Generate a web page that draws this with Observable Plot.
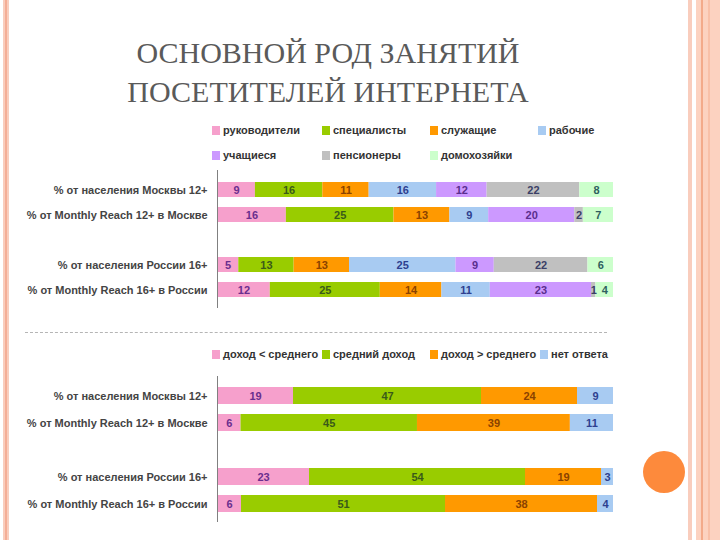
<!DOCTYPE html>
<html>
<head>
<meta charset="utf-8">
<script src="https://cdn.jsdelivr.net/npm/d3@7"></script>
<script src="https://cdn.jsdelivr.net/npm/@observablehq/plot@0.6"></script>
<style>
  html, body { margin: 0; padding: 0; background: #fff; }
  #slide { position: relative; width: 720px; height: 540px; overflow: hidden; background: #fff; font-family: "Liberation Sans", Arial, sans-serif; }
  .abs { position: absolute; }
  .title { left: 0; width: 656px; top: 33px; text-align: center; font-family: "Liberation Serif", "DejaVu Serif", serif; font-size: 30px; line-height: 39px; color: #5a5a5a; }
  .leg { position: absolute; font-size: 11px; font-weight: bold; color: #333; white-space: nowrap; line-height: 12px; }
  .leg i { display: inline-block; width: 8px; height: 9px; margin-right: 3px; vertical-align: -1px; }
</style>
</head>
<body>
<div id="slide"></div>
<script>
// ---------- data ----------
const rows = [
  "% от населения Москвы 12+",
  "% от Monthly Reach 12+ в Москве",
  "% от населения России 16+",
  "% от Monthly Reach 16+ в России"
];
const occupations = ["руководители", "специалисты", "служащие", "рабочие", "учащиеся", "пенсионеры", "домохозяйки"];
const occMoscowPop   = [9, 16, 11, 16, 12, 22, 8];
const occMoscowReach = [16, 25, 13, 9, 20, 2, 7];
const occRussiaPop   = [5, 13, 13, 25, 9, 22, 6];
const occRussiaReach = [12, 25, 14, 11, 23, 1, 4];

const incomes = ["доход < среднего", "средний доход", "доход > среднего", "нет ответа"];
const incMoscowPop   = [19, 47, 24, 9];
const incMoscowReach = [6, 45, 39, 11];
const incRussiaPop   = [23, 54, 19, 3];
const incRussiaReach = [6, 51, 38, 4];

const occColors = ["#F6A0CC", "#99CC00", "#FF9900", "#A8CBF2", "#CC99FF", "#C0C0C0", "#CCFFCC"];
const occLabelColors = ["#6A2E8E", "#3A5A1A", "#8A4200", "#2E3F8F", "#5A2E8E", "#3A3F66", "#2F5F5F"];
const incColors = ["#F6A0CC", "#99CC00", "#FF9900", "#A8CBF2"];
const incLabelColors = ["#6A2E8E", "#3A5A1A", "#8A4200", "#2E3F8F"];

// ---------- helpers ----------
const GAP = "__gap__";
function table(seriesNames, colors, labelColors, valueRows) {
  const out = [];
  valueRows.forEach((vals, r) => {
    vals.forEach((v, i) => out.push({row: rows[r], series: seriesNames[i], value: v, color: colors[i], label: labelColors[i]}));
  });
  return out;
}

const slide = document.getElementById("slide");

function addDiv(cls, style, html) {
  const d = document.createElement("div");
  d.className = cls;
  Object.assign(d.style, style);
  d.innerHTML = html;
  slide.appendChild(d);
  return d;
}

// decorations
addDiv("abs", {left: "3px", top: "0", width: "6px", height: "540px", background: "#F9CDBD"}, "");
addDiv("abs", {left: "5px", top: "0", width: "2px", height: "540px", background: "#F4AE96"}, "");
addDiv("abs", {left: "688px", top: "0", width: "4px", height: "540px", background: "#F9CDBD"}, "");
addDiv("abs", {left: "696px", top: "0", width: "24px", height: "540px", background: "#FCD2C0"}, "");
addDiv("abs", {left: "701px", top: "0", width: "2px", height: "540px", background: "#F3AA8A"}, "");
addDiv("abs", {left: "708px", top: "0", width: "2px", height: "540px", background: "#F8C0A8"}, "");
addDiv("abs", {left: "643px", top: "451px", width: "42px", height: "42px", borderRadius: "50%", background: "#FD8A3C"}, "");

// title
addDiv("abs title", {}, "ОСНОВНОЙ РОД ЗАНЯТИЙ<br>ПОСЕТИТЕЛЕЙ ИНТЕРНЕТА");

// dashed separator
addDiv("abs", {left: "25px", top: "332px", width: "582px", height: "0", borderTop: "1.5px dashed #B5B5B5"}, "");

// legends
function legend(names, colors, lefts, tops) {
  names.forEach((n, i) => {
    addDiv("leg", {left: lefts[i] + "px", top: tops[i] + "px"}, `<i style="background:${colors[i]}"></i>${n.replace("<", "&lt;").replace(">", "&gt;")}`);
  });
}
legend(occupations, occColors, [212, 322, 430, 538, 212, 322, 430], [124, 124, 124, 124, 149, 149, 149]);
legend(incomes, incColors, [212, 322, 430, 540], [348, 348, 348, 348]);

// chart builder
function chart(data, top, height, padding) {
  const p = Plot.plot({
    width: 720,
    height,
    marginLeft: 217,
    marginRight: 107,
    marginTop: 10,
    marginBottom: 10,
    style: {fontFamily: "'Liberation Sans', Arial, sans-serif", fontSize: "11px", background: "transparent", overflow: "visible"},
    x: {domain: [0, 1], axis: null},
    y: {domain: [rows[0], rows[1], GAP, rows[2], rows[3]], padding, axis: null},
    color: {type: "identity"},
    marks: [
      Plot.barX(data, Plot.stackX({x: "value", y: "row", z: "series", offset: "normalize", fill: "color"})),
      Plot.text(data, Plot.stackX({x: "value", y: "row", z: "series", offset: "normalize", text: d => String(d.value), fill: "label", fontWeight: "bold", fontSize: 11})),
      Plot.ruleX([0], {stroke: "#808080", strokeWidth: 1}),
      Plot.axisY(rows, {tickSize: 0, tickPadding: 10, fontWeight: "bold", fill: "#444", fontSize: 11, label: null})
    ]
  });
  p.style.position = "absolute";
  p.style.left = "0px";
  p.style.top = top + "px";
  slide.appendChild(p);
}

chart(table(occupations, occColors, occLabelColors, [occMoscowPop, occMoscowReach, occRussiaPop, occRussiaReach]), 160, 158, 0.42);
chart(table(incomes, incColors, incLabelColors, [incMoscowPop, incMoscowReach, incRussiaPop, incRussiaReach]), 366, 166, 0.38);
</script>
</body>
</html>
